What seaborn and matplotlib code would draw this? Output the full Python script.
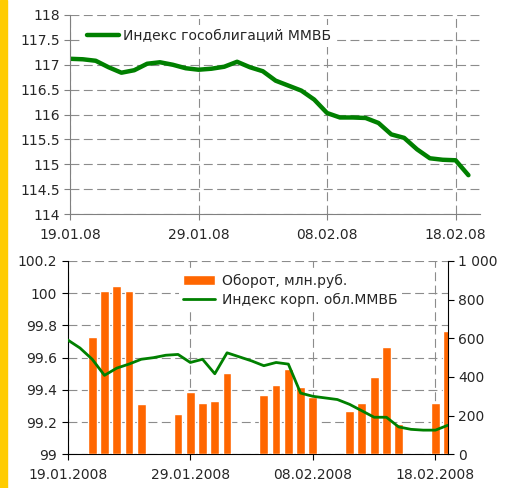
import matplotlib
matplotlib.use("Agg")
import matplotlib.pyplot as plt
import matplotlib.dates as mdates
import matplotlib.ticker as mticker
import seaborn as sns
import pandas as pd

# daily values, 19.01.2008 .. 19.02.2008
days = pd.date_range("2008-01-19", "2008-02-19", freq="D")

gov_index = [117.12, 117.11, 117.08, 116.95, 116.84, 116.89, 117.02, 117.05,
             117.00, 116.93, 116.90, 116.92, 116.96, 117.06, 116.95, 116.87,
             116.68, 116.58, 116.48, 116.30, 116.03, 115.94, 115.94, 115.93,
             115.83, 115.60, 115.53, 115.30, 115.12, 115.09, 115.08, 114.78]

corp_index = [99.71, 99.66, 99.59, 99.49, 99.535, 99.56, 99.59, 99.60,
              99.615, 99.62, 99.57, 99.59, 99.50, 99.63, 99.605, 99.58,
              99.55, 99.57, 99.56, 99.38, 99.36, 99.35, 99.34, 99.31,
              99.27, 99.23, 99.23, 99.17, 99.155, 99.15, 99.15, 99.18]

# trading days only
turnover_days = pd.to_datetime([
    "2008-01-21", "2008-01-22", "2008-01-23", "2008-01-24", "2008-01-25",
    "2008-01-28", "2008-01-29", "2008-01-30", "2008-01-31", "2008-02-01",
    "2008-02-04", "2008-02-05", "2008-02-06", "2008-02-07", "2008-02-08",
    "2008-02-11", "2008-02-12", "2008-02-13", "2008-02-14", "2008-02-15",
    "2008-02-18", "2008-02-19"])
turnover = [605, 847, 871, 847, 260,
            207, 321, 267, 274, 419,
            306, 360, 443, 346, 299,
            225, 263, 398, 555, 157,
            263, 640]

tick_dates = pd.to_datetime(["2008-01-19", "2008-01-29", "2008-02-08", "2008-02-18"])

GREEN = "#008000"
ORANGE = "#FF6600"
GRID = "#8c8c8c"

sns.set_style("white")
plt.rcParams["font.family"] = ["DejaVu Sans"]
plt.rcParams["font.size"] = 10

top_df = pd.DataFrame({"date": days, "value": gov_index})
bot_df = pd.DataFrame({"date": days, "value": corp_index})

fig = plt.figure(figsize=(5.09, 4.88), dpi=100)
fig.patch.set_facecolor("white")

# yellow stripe on the left edge
fig.add_artist(plt.Rectangle((0, 0), 7 / 509, 1, transform=fig.transFigure,
                             color="#FFCC00", zorder=0))

grid_kw = dict(color=GRID, linestyle=(0, (8, 4)), linewidth=0.8)

# ---------- top panel ----------
ax = fig.add_axes([70 / 509, 1 - 214 / 488, 410 / 509, 199 / 488])
sns.lineplot(data=top_df, x="date", y="value", ax=ax, color=GREEN,
             linewidth=3.2, label="Индекс гособлигаций ММВБ",
             solid_capstyle="round", solid_joinstyle="round")
ax.set_xlim(days[0], days[0] + pd.Timedelta(days=31.9))
ax.set_ylim(114, 118)
ax.yaxis.set_major_locator(mticker.MultipleLocator(0.5))
ax.yaxis.set_major_formatter(mticker.FuncFormatter(lambda v, p: f"{v:g}"))
ax.set_xticks(tick_dates)
ax.xaxis.set_major_formatter(mdates.DateFormatter("%d.%m.%y"))
ax.set_xlabel("")
ax.set_ylabel("")
ax.grid(True, **grid_kw)
for s in ["top", "right"]:
    ax.spines[s].set_visible(False)
for s in ["left", "bottom"]:
    ax.spines[s].set_color("#808080")
ax.tick_params(axis="both", direction="out", length=4, color="#808080",
               labelsize=10, pad=3, left=True, bottom=True)
ax.tick_params(axis="x", pad=6)
leg = ax.legend(loc="upper left", bbox_to_anchor=(0.015, 0.985), frameon=True,
                fancybox=False, edgecolor="none", facecolor="white",
                framealpha=1, handlelength=2.3, handletextpad=0.3,
                borderpad=0.3, fontsize=10)

# ---------- bottom panel ----------
pos = [67.7 / 509, 1 - 454.3 / 488, 380 / 509, 193.3 / 488]
axl = fig.add_axes(pos)
axl.set_xlim(days[0], days[-1])
axl.set_ylim(99, 100.2)
axl.yaxis.set_major_locator(mticker.MultipleLocator(0.2))
axl.yaxis.set_major_formatter(mticker.FuncFormatter(lambda v, p: f"{v:g}"))
axl.set_xticks(tick_dates)
axl.xaxis.set_major_formatter(mdates.DateFormatter("%d.%m.%Y"))
axl.grid(True, **grid_kw)

axb = axl.twinx()
axb.bar(turnover_days, turnover, width=0.72, color=ORANGE, label="Оборот, млн.руб.",
        zorder=2)
axb.set_ylim(0, 1000)
axb.yaxis.set_major_locator(mticker.MultipleLocator(200))
axb.yaxis.set_major_formatter(
    mticker.FuncFormatter(lambda v, p: f"{int(v):,}".replace(",", " ")))

axt = axl.twinx()
sns.lineplot(data=bot_df, x="date", y="value", ax=axt, color=GREEN,
             linewidth=2.0, label="Индекс корп. обл.ММВБ",
             solid_joinstyle="round")
axt.set_ylim(axl.get_ylim())
axt.set_xlim(days[0], days[-1])
axt.yaxis.set_visible(False)
axt.set_xlabel("")
axt.set_ylabel("")
for s in axt.spines.values():
    s.set_visible(False)

for a in (axl, axb):
    a.set_xlabel("")
    a.set_ylabel("")
    a.spines["top"].set_visible(False)
axl.spines["right"].set_visible(False)
for s in ["left", "bottom"]:
    axl.spines[s].set_color("black")
axb.spines["right"].set_color("black")
for s in ["left", "bottom", "top"]:
    axb.spines[s].set_visible(False)
axl.tick_params(axis="both", direction="out", length=4, color="black",
                labelsize=10, left=True, bottom=True)
axl.tick_params(axis="x", pad=6)
axb.tick_params(axis="y", direction="out", length=4, color="black",
                labelsize=10, right=True)

h1, l1 = axb.get_legend_handles_labels()
h2, l2 = axt.get_legend_handles_labels()
if axt.get_legend() is not None:
    axt.get_legend().remove()
axt.legend(h1 + h2, l1 + l2, loc="upper left", bbox_to_anchor=(0.275, 0.99),
           frameon=True, fancybox=False, edgecolor="none", facecolor="white",
           framealpha=1, handlelength=2.3, handletextpad=0.5, borderpad=0.3,
           labelspacing=0.35, fontsize=10)

fig.savefig("out.png", dpi=100)
